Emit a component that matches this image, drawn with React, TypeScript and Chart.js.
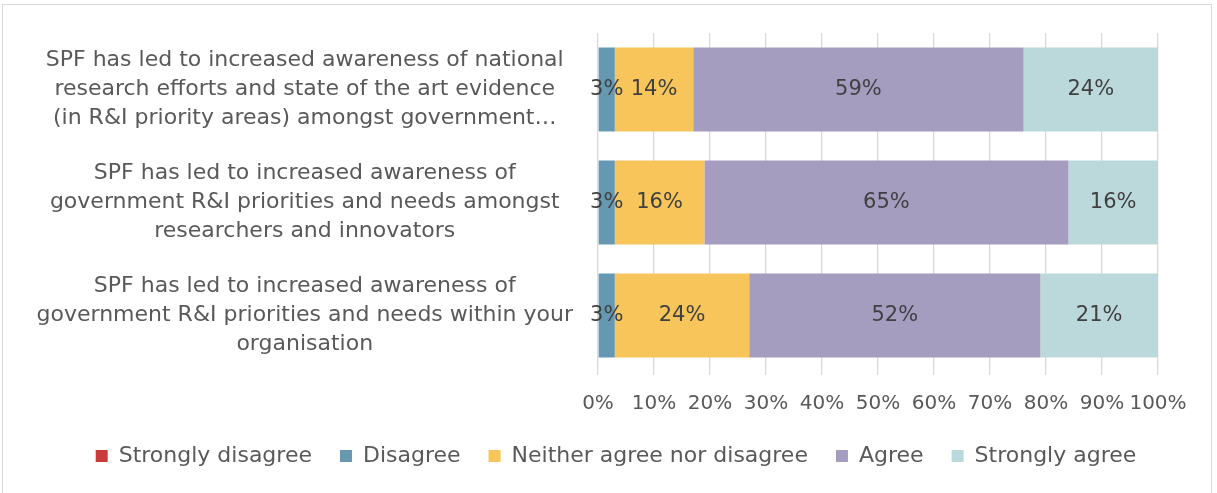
import React, { useEffect, useRef } from "react";
import { Chart, registerables } from "chart.js";

Chart.register(...registerables);

const categories: string[][] = [
  ["SPF has led to increased awareness of national", "research efforts and state of the art evidence", "(in R&I priority areas) amongst government…"],
  ["SPF has led to increased awareness of", "government R&I priorities and needs amongst", "researchers and innovators"],
  ["SPF has led to increased awareness of", "government R&I priorities and needs within your", "organisation"],
];
const seriesNames = ["Strongly disagree", "Disagree", "Neither agree nor disagree", "Agree", "Strongly agree"];
const stronglyDisagree = [0, 0, 0];
const disagree = [3, 3, 3];
const neither = [14, 16, 24];
const agree = [59, 65, 52];
const stronglyAgree = [24, 16, 21];
const xTicks = [0, 10, 20, 30, 40, 50, 60, 70, 80, 90, 100];

const colors = ["#C73B3B", "#6699B1", "#F7C55A", "#A59DC0", "#BBD8DB"];
const FONT = "'DejaVu Sans', sans-serif";

const frame = {
  id: "frame",
  beforeDraw(chart: any) {
    const ctx = chart.ctx;
    ctx.save();
    ctx.strokeStyle = "#d9d9d9";
    ctx.lineWidth = 1;
    ctx.strokeRect(2.5, 4.5, 1209, 600);
    ctx.restore();
  },
};

const legendShift = {
  id: "legendShift",
  afterLayout(chart: any) {
    const lg = chart.legend;
    if (lg) {
      lg.left += 37;
      lg.right += 37;
    }
  },
};

const dataLabels = {
  id: "dataLabels",
  afterDatasetsDraw(chart: any) {
    const ctx = chart.ctx;
    ctx.save();
    ctx.font = `21px ${FONT}`;
    ctx.fillStyle = "#404040";
    ctx.textAlign = "center";
    ctx.textBaseline = "middle";
    chart.data.datasets.forEach((ds: any, i: number) => {
      const meta = chart.getDatasetMeta(i);
      meta.data.forEach((el: any, j: number) => {
        const v = ds.data[j];
        if (!v) return;
        const p = el.getCenterPoint();
        ctx.fillText(`${v}%`, p.x, p.y);
      });
    });
    ctx.restore();
  },
};

export default function App() {
  const ref = useRef<HTMLCanvasElement | null>(null);
  useEffect(() => {
    if (!ref.current) return;
    const values = [stronglyDisagree, disagree, neither, agree, stronglyAgree];
    const chart = new Chart(ref.current, {
      type: "bar",
      data: {
        labels: categories,
        datasets: seriesNames.map((name, i) => ({
          label: name,
          data: values[i],
          backgroundColor: colors[i],
          borderWidth: 0,
          barPercentage: 0.743,
          categoryPercentage: 1,
        })),
      },
      options: {
        indexAxis: "y",
        animation: false,
        responsive: false,
        maintainAspectRatio: false,
        layout: { padding: { top: 33, right: 59, left: 0, bottom: 16 } },
        plugins: {
          legend: {
            position: "bottom",
            labels: {
              boxWidth: 12,
              boxHeight: 12,
              padding: 28,
              color: "#595959",
              font: { family: FONT, size: 22 },
            },
          },
          tooltip: { enabled: false },
        },
        scales: {
          x: {
            stacked: true,
            min: 0,
            max: 100,
            afterBuildTicks(scale: any) {
              scale.ticks = xTicks.map((v) => ({ value: v }));
            },
            afterFit(scale: any) {
              scale.height = 45;
              scale.paddingLeft = 0;
              scale.paddingRight = 0;
            },
            ticks: {
              color: "#595959",
              padding: 17,
              maxRotation: 0,
              autoSkip: false,
              font: { family: FONT, size: 20, lineHeight: 1.2 },
              callback: (v: any) => `${v}%`,
            },
            grid: { color: "#d9d9d9", lineWidth: 1.3, tickLength: 3, drawTicks: true },
            border: { display: false },
          },
          y: {
            stacked: true,
            afterFit(scale: any) {
              scale.width = 598;
              scale.paddingTop = 0;
              scale.paddingBottom = 0;
            },
            ticks: {
              color: "#595959",
              padding: 25,
              crossAlign: "center",
              autoSkip: false,
              font: { family: FONT, size: 22, lineHeight: 1.32 },
            },
            grid: { display: false, drawTicks: false },
            border: { display: false },
          },
        },
      },
      plugins: [frame, legendShift, dataLabels],
    });
    return () => chart.destroy();
  }, []);
  return (
    <div style={{ position: "absolute", left: 0, top: 0, width: 1217, height: 493, background: "#fff" }}>
      <canvas ref={ref} width={1217} height={493} style={{ width: 1217, height: 493, display: "block" }} />
    </div>
  );
}
